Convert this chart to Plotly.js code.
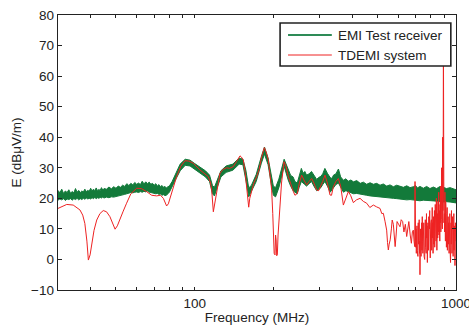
<!DOCTYPE html>
<html>
<head>
<meta charset="utf-8">
<script src="https://cdn.plot.ly/plotly-3.0.1.min.js"></script>
<style>html,body{margin:0;padding:0;background:#fff;}#chart{width:469px;height:325px;}</style>
</head>
<body>
<div id="chart"></div>
<script>
const seriesNames = ['EMI Test receiver', 'TDEMI system'];

// EMI Test receiver: noisy band, upper and lower envelope
const greenFreq = [30,30.5,31,31.5,32,32.5,33,33.5,34,34.5,35,35.5,36,36.5,37,37.5,38,38.5,39,39.5,40,40.5,41,41.5,42,42.5,43,43.5,44,44.5,45,46,47,48,49,50,51,52,53,54,55,56,57,58,59,60,61,62,63,64,65,66,67,68,69,70,71,72,73,74,75,76,77,78,79,80,82,85,88,92,96,100,105,110,114,117,119,122,126,132,140,148,153,157,161,165,172,180,185,191,197,200,204,210,220,228,233,238,242,247,251,256,260,264,268,274,280,286,293,298,304,309,315,322,330,335,340,347,355,362,371,379,387,396,405,417,430,442,455,469,483,497,512,527,543,559,576,593,611,629,648,667,687,700,712,728,750,772,795,819,843,869,895,920,949,975,1000];
const greenHi = [22.6,21.8,23.0,21.6,22.4,21.9,22.8,21.7,22.2,21.8,23.2,22.0,22.6,21.9,22.4,22.1,23.0,22.2,22.6,22.3,23.3,22.4,23.0,22.5,23.4,22.5,22.9,22.6,23.5,22.7,23.2,23.0,23.7,23.1,23.8,23.3,24.0,23.6,24.3,23.9,24.8,24.2,24.9,24.4,25.2,24.6,25.0,24.5,25.6,24.7,25.4,24.8,25.3,24.6,24.9,24.3,24.8,24.0,24.5,23.8,24.2,23.6,23.9,23.4,23.8,24.0,25.5,28.5,31.2,32.8,32.5,31.4,30.2,29.0,27.6,24.2,23.6,26.2,29.0,30.6,31.2,33.2,32.8,29.2,23.4,24.3,27.8,33.7,36.8,33.2,26.4,24.0,23.5,26.3,32.8,29.4,27.5,27.0,25.5,25.0,27.5,29.8,28.2,28.8,27.6,28.0,28.8,27.5,26.2,26.8,27.2,28.0,29.8,28.2,26.8,26.5,27.6,28.0,29.6,27.0,25.9,26.4,25.6,26.0,25.4,25.8,24.9,25.3,24.6,25.1,24.6,24.9,24.3,24.7,24.0,24.4,23.8,24.3,24.0,23.6,24.1,23.5,23.8,24.2,23.4,23.9,23.3,23.9,23.2,23.7,23.2,23.9,23.6,23.2,23.5,23.0,22.8];
const greenLo = [19.4,19.8,19.5,19.9,19.3,19.8,19.6,19.9,19.4,19.9,19.6,20.0,19.5,19.9,19.6,20.0,19.7,20.1,19.8,20.0,19.8,20.2,19.9,20.3,19.9,20.2,20.0,20.3,20.1,20.4,20.1,20.4,20.2,20.5,20.4,20.6,20.8,21.0,21.1,21.3,21.5,21.6,21.9,21.8,22.0,22.1,21.9,22.2,22.0,22.3,22.1,22.4,22.0,21.9,21.8,21.7,21.5,21.6,21.3,21.4,21.0,21.2,20.9,21.0,21.5,22.0,23.5,26.5,29.0,30.8,30.6,29.5,28.2,27.0,25.5,21.5,20.8,23.5,27.0,28.5,29.2,31.2,31.0,26.0,20.5,22.0,25.5,31.5,34.5,31.0,24.0,21.0,20.5,23.5,30.5,26.0,24.0,22.5,22.0,21.5,23.5,25.5,25.0,24.5,24.0,24.8,25.5,24.0,22.5,22.8,23.5,24.5,25.5,24.0,22.0,22.5,23.5,24.5,25.0,23.5,22.0,22.5,22.0,21.8,21.5,21.6,21.5,21.2,21.0,20.8,20.5,20.6,20.5,20.3,20.2,20.1,20.0,19.9,19.8,19.7,19.5,19.6,19.5,19.6,19.3,19.2,19.4,19.2,19.1,19.0,19.1,19.0,18.8,18.9,18.8,18.7,18.5];

// TDEMI system
const redFreq = [30,31.4,32.4,34.3,36.4,37.3,38.0,38.7,39.2,39.8,40.4,41.2,42.2,43.4,44.7,46,47.4,48.6,49.6,50.6,51.8,53.3,54.9,57,60,62.5,65.5,68.5,71.5,74,75.9,77,78.1,79.3,80.5,83,85.3,88.5,91.8,95,98.8,104.8,112.8,115,116.2,117.9,119,120.7,122.5,125,128.5,132.6,136,140.6,144.5,149.1,151,153.6,156,158.1,160,161,162.5,165.3,168.5,172.8,176.5,180.5,184.8,188,191.4,194,197.1,199,200,201.5,203,204,205,206,207.2,208.5,210.9,215,219.8,223.5,228.3,233,238.6,242,247.1,251.5,256.7,262,268.3,274,280.4,286,293,298,303.5,309,315.3,322,329.5,334,339.4,347,354.6,362,370.7,378,387.3,395,404.8,416,429.4,442,455.3,468,482.8,497,512,520,527.2,535,542.9,547,551,555,560,566,570,575.8,580,585,590,595,603,610.6,617,625,632,640,647.6,653,660,668,675,681,686.6,691,695,697,699,701,703,705,707,709,711,713,715,717,719,721,723,725,727,728,729,731,733,735,737,739,741,743,745,747,749,751,753,755,757,759,761,763,765,767,769,771,773,775,777,779,781,783,785,787,789,791,793,795,797,799,801,803,805,807,809,811,813,815,817,819,821,823,825,827,829,831,833,835,837,839,841,843,845,847,849,851,853,855,857,859,861,863,865,867,869,871,873,875,877,879,881,883,885,887,889,891,893,895,897,899,901,903,905,907,909,911,913,915,917,919,921,923,925,927,929,931,933,935,937,939,941,943,945,947,949,951,953,955,957,959,961,963,965,967,969,971,973,975,977,979,981,983,985,987,989,991,993,995,997,999,1000];
const redVal = [16.7,17.6,18.0,17.8,16.2,14.5,11.8,6,-0.2,1.5,5.3,9.5,12.9,15,16.0,15.6,14.0,12,9.9,11,12.9,15.8,18.4,21.5,23.3,23.2,22.2,21,20.8,21,20.0,18.5,17.5,18.2,20.0,23.5,27.1,30.5,32.3,32.2,31.5,29.3,27.1,25,22.7,15.6,17.5,20.5,24.5,28.2,29.5,30.0,29.8,30.4,32,33.9,33.5,32.5,28.5,23.8,18.5,17.1,20,22.7,25,27.1,29.5,33.6,36.6,35,32.5,28,22.7,15,9.6,2,1.5,8,6.4,1.2,1.5,8,15.1,25,32.0,30.5,27.1,24.5,22.2,21,21.6,25,27.6,26,24.4,25.5,26.5,25,22.7,22.5,23.8,25.5,27.6,25,21.1,21,23.8,25.5,26.5,24,17.8,19.5,22.2,21,18.6,19.5,20.0,19,18.4,17,17.8,17.2,16.7,15,15.1,12.5,9.6,5.5,3.1,5,6.4,10,12.9,11.5,7,4.2,8,12.4,11.5,10.7,13,12.4,9,11.5,7.5,10,12.4,8,5.3,9,9.6,6,4.2,25.5,9,4,10,2,8,11,3,9,1,12,5,7,13,2,6,-5,3,10,6,1,9,12,3,14,6,2,10,7,12,1,8,0,11,13,4,9,2,15,7,11,-1,6,12,9,3,14,5,10,16,4,0.5,8,12,6,13,3,10,17,7,12,2,9,14,5,11,16,4,9,18,8,13,6,20,10,3,12,15,7,19,9,14,22,8,16,11,6,18,12,24,9,15,13,30,14,19,10,40,16,25,72,18,12,35,15,9,22,12,6,19,10,15,4,13,8,17,3,11,7,14,5,12,9,2,13,7,15,4,10,-1,8,12,5,16,9,2,11,14,6,10,1,13,8,15,3,11,6,9,-2,7,12,4,8,6];

const xTickVals = [30,40,50,60,70,80,90,100,200,300,400,500,600,700,800,900,1000];
const xTickText = ['','','','','','','','100','','','','','','','','','1000'];

const green = '#137a3a';
const legendGreen = '#2e8b57';
const red = '#ee2222';

// closed band polygon built from the envelopes
const bandX = greenFreq.concat(greenFreq.slice().reverse());
const bandY = greenHi.concat(greenLo.slice().reverse());

const traces = [
  {x: bandX, y: bandY, mode: 'lines', name: seriesNames[0], showlegend: false,
   line: {color: green, width: 1}, fill: 'toself', fillcolor: green, hoverinfo: 'skip'},
  {x: redFreq, y: redVal, mode: 'lines', name: seriesNames[1], showlegend: false,
   line: {color: red, width: 1}}
];

const font = {family: 'Liberation Sans, Arial, sans-serif', size: 13.5, color: '#222'};

// hand-drawn legend box (paper coordinates)
const lg = {x0: 0.558, x1: 0.987, y0: 0.8145, y1: 0.971, lx0: 0.578, lx1: 0.688, tx: 0.699, r1: 0.927, r2: 0.8545};

const layout = {
  width: 469, height: 325,
  margin: {l: 58, r: 13, t: 15, b: 35},
  paper_bgcolor: '#fff', plot_bgcolor: '#fff',
  font: font,
  showlegend: false,
  xaxis: {type: 'log', range: [Math.log10(30), 3],
    tickvals: xTickVals, ticktext: xTickText, ticklabeloverflow: 'allow',
    ticks: 'inside', ticklen: 3, tickcolor: '#222',
    showline: true, linecolor: '#222', linewidth: 1.3, mirror: 'ticks',
    showgrid: false, zeroline: false,
    title: {text: 'Frequency (MHz)', font: font, standoff: 2}},
  yaxis: {range: [-10, 80], dtick: 10, tick0: 0,
    ticks: 'inside', ticklen: 4, tickcolor: '#222',
    showline: true, linecolor: '#222', linewidth: 1.3, mirror: 'ticks',
    showgrid: false, zeroline: false,
    title: {text: 'E (dBμV/m)', font: font, standoff: 6}},
  shapes: [
    {type: 'rect', xref: 'paper', yref: 'paper', x0: lg.x0, x1: lg.x1, y0: lg.y0, y1: lg.y1,
     fillcolor: '#fff', line: {color: '#222', width: 1.6}, layer: 'above'},
    {type: 'line', xref: 'paper', yref: 'paper', x0: lg.lx0, x1: lg.lx1, y0: lg.r1, y1: lg.r1,
     line: {color: legendGreen, width: 2}, layer: 'above'},
    {type: 'line', xref: 'paper', yref: 'paper', x0: lg.lx0, x1: lg.lx1, y0: lg.r2, y1: lg.r2,
     line: {color: red, width: 1}, layer: 'above'}
  ],
  annotations: [
    {xref: 'paper', yref: 'paper', x: lg.tx, y: lg.r1, xanchor: 'left', yanchor: 'middle',
     text: seriesNames[0], showarrow: false, font: font},
    {xref: 'paper', yref: 'paper', x: lg.tx, y: lg.r2, xanchor: 'left', yanchor: 'middle',
     text: seriesNames[1], showarrow: false, font: font}
  ]
};

Plotly.newPlot('chart', traces, layout, {displayModeBar: false, staticPlot: true});
</script>
</body>
</html>
